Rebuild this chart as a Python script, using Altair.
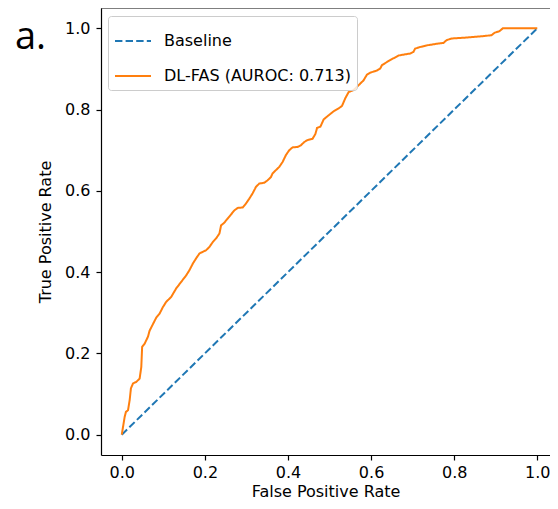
import altair as alt
import pandas as pd

series_names = ["Baseline", "DL-FAS (AUROC: 0.713)"]
series_colors = ["#1f77b4", "#ff7f0e"]

baseline_fpr = [0.0, 1.0]
baseline_tpr = [0.0, 1.0]

roc_fpr = [0.0, 0.003, 0.007, 0.010, 0.015, 0.019, 0.022, 0.027, 0.035, 0.043,
           0.047, 0.049, 0.055, 0.063, 0.067, 0.075, 0.083, 0.091, 0.099, 0.107,
           0.119, 0.131, 0.143, 0.155, 0.163, 0.171, 0.179, 0.187, 0.203, 0.211,
           0.219, 0.227, 0.235, 0.239, 0.247, 0.255, 0.263, 0.271, 0.279, 0.291,
           0.299, 0.307, 0.315, 0.323, 0.331, 0.343, 0.351, 0.359, 0.363, 0.371,
           0.379, 0.387, 0.395, 0.403, 0.411, 0.423, 0.431, 0.439, 0.447, 0.459,
           0.466, 0.470, 0.478, 0.486, 0.498, 0.510, 0.522, 0.530, 0.538, 0.546,
           0.558, 0.566, 0.574, 0.582, 0.590, 0.598, 0.614, 0.622, 0.626, 0.638,
           0.650, 0.666, 0.682, 0.694, 0.702, 0.706, 0.718, 0.734, 0.758, 0.774,
           0.782, 0.794, 0.826, 0.862, 0.890, 0.897, 0.909, 0.917, 1.0]
roc_tpr = [0.0, 0.019, 0.044, 0.056, 0.060, 0.085, 0.114, 0.126, 0.130, 0.138,
           0.167, 0.216, 0.224, 0.241, 0.256, 0.272, 0.288, 0.298, 0.314, 0.327,
           0.339, 0.360, 0.376, 0.392, 0.405, 0.421, 0.434, 0.446, 0.454, 0.462,
           0.474, 0.483, 0.495, 0.515, 0.522, 0.532, 0.542, 0.552, 0.558, 0.559,
           0.569, 0.581, 0.594, 0.610, 0.618, 0.620, 0.626, 0.634, 0.643, 0.651,
           0.659, 0.671, 0.688, 0.700, 0.707, 0.708, 0.712, 0.720, 0.725, 0.728,
           0.740, 0.755, 0.758, 0.776, 0.786, 0.796, 0.803, 0.809, 0.828, 0.843,
           0.848, 0.856, 0.864, 0.872, 0.886, 0.891, 0.896, 0.901, 0.909, 0.917,
           0.924, 0.933, 0.936, 0.938, 0.942, 0.950, 0.954, 0.958, 0.962, 0.964,
           0.971, 0.975, 0.977, 0.980, 0.983, 0.989, 0.993, 1.0, 1.0]

tick_values = [0.0, 0.2, 0.4, 0.6, 0.8, 1.0]

rows = []
for i, (fx, ty) in enumerate(zip(baseline_fpr, baseline_tpr)):
    rows.append({"series": series_names[0], "fpr": fx, "tpr": ty, "idx": i})
for i, (fx, ty) in enumerate(zip(roc_fpr, roc_tpr)):
    rows.append({"series": series_names[1], "fpr": fx, "tpr": ty, "idx": i})
df = pd.DataFrame(rows)

FONT = "DejaVu Sans"
W, H = 449, 447

lines = alt.Chart(df).mark_line(strokeWidth=2).encode(
    x=alt.X("fpr:Q",
            scale=alt.Scale(domain=[-0.05, 1.0306], nice=False, zero=False),
            axis=alt.Axis(values=tick_values, format=".1f", title="False Positive Rate",
                          labelPadding=4, titlePadding=3)),
    y=alt.Y("tpr:Q",
            scale=alt.Scale(domain=[-0.05, 1.05], nice=False, zero=False),
            axis=alt.Axis(values=tick_values, format=".1f", title="True Positive Rate",
                          labelPadding=6, titlePadding=11)),
    color=alt.Color("series:N",
                    scale=alt.Scale(domain=series_names, range=series_colors),
                    legend=alt.Legend(title=None, orient="none", legendX=7, legendY=8,
                                      symbolType="stroke", symbolSize=1296,
                                      symbolStrokeWidth=2, labelFont=FONT,
                                      labelFontSize=16, labelColor="#000",
                                      labelOffset=12, rowPadding=8, padding=6,
                                      labelLimit=400,
                                      fillColor="rgba(255,255,255,0.8)",
                                      strokeColor="#cccccc", cornerRadius=3)),
    strokeDash=alt.StrokeDash("series:N",
                              scale=alt.Scale(domain=series_names,
                                              range=[[7.4, 3.2], [1, 0]]),
                              legend=None),
    order="idx:Q",
)

top_spine = alt.Chart(pd.DataFrame({"k": [0]})).mark_rule(
    color="#000", strokeWidth=1.2
).encode(x=alt.value(0), x2=alt.value(W), y=alt.value(0))

label = alt.Chart(pd.DataFrame({"t": ["a."]})).mark_text(
    font="Open Sans", fontSize=38, align="left", baseline="alphabetic", color="#000"
).encode(text="t:N", x=alt.value(-86), y=alt.value(41))

chart = alt.layer(lines, top_spine, label).properties(
    width=W, height=H,
    autosize=alt.AutoSizeParams(type="none"),
    padding={"left": 93, "top": 0, "right": 0, "bottom": 45},
).configure_view(stroke=None).configure_axis(
    grid=False, labelFont=FONT, labelFontSize=16, labelColor="#000",
    titleFont=FONT, titleFontSize=16, titleFontWeight="normal", titleColor="#000",
    tickColor="#000", domainColor="#000", tickSize=5, tickWidth=1.2, domainWidth=1.2,
)

chart.save("out.html", embed_options={"renderer": "svg", "actions": False})
